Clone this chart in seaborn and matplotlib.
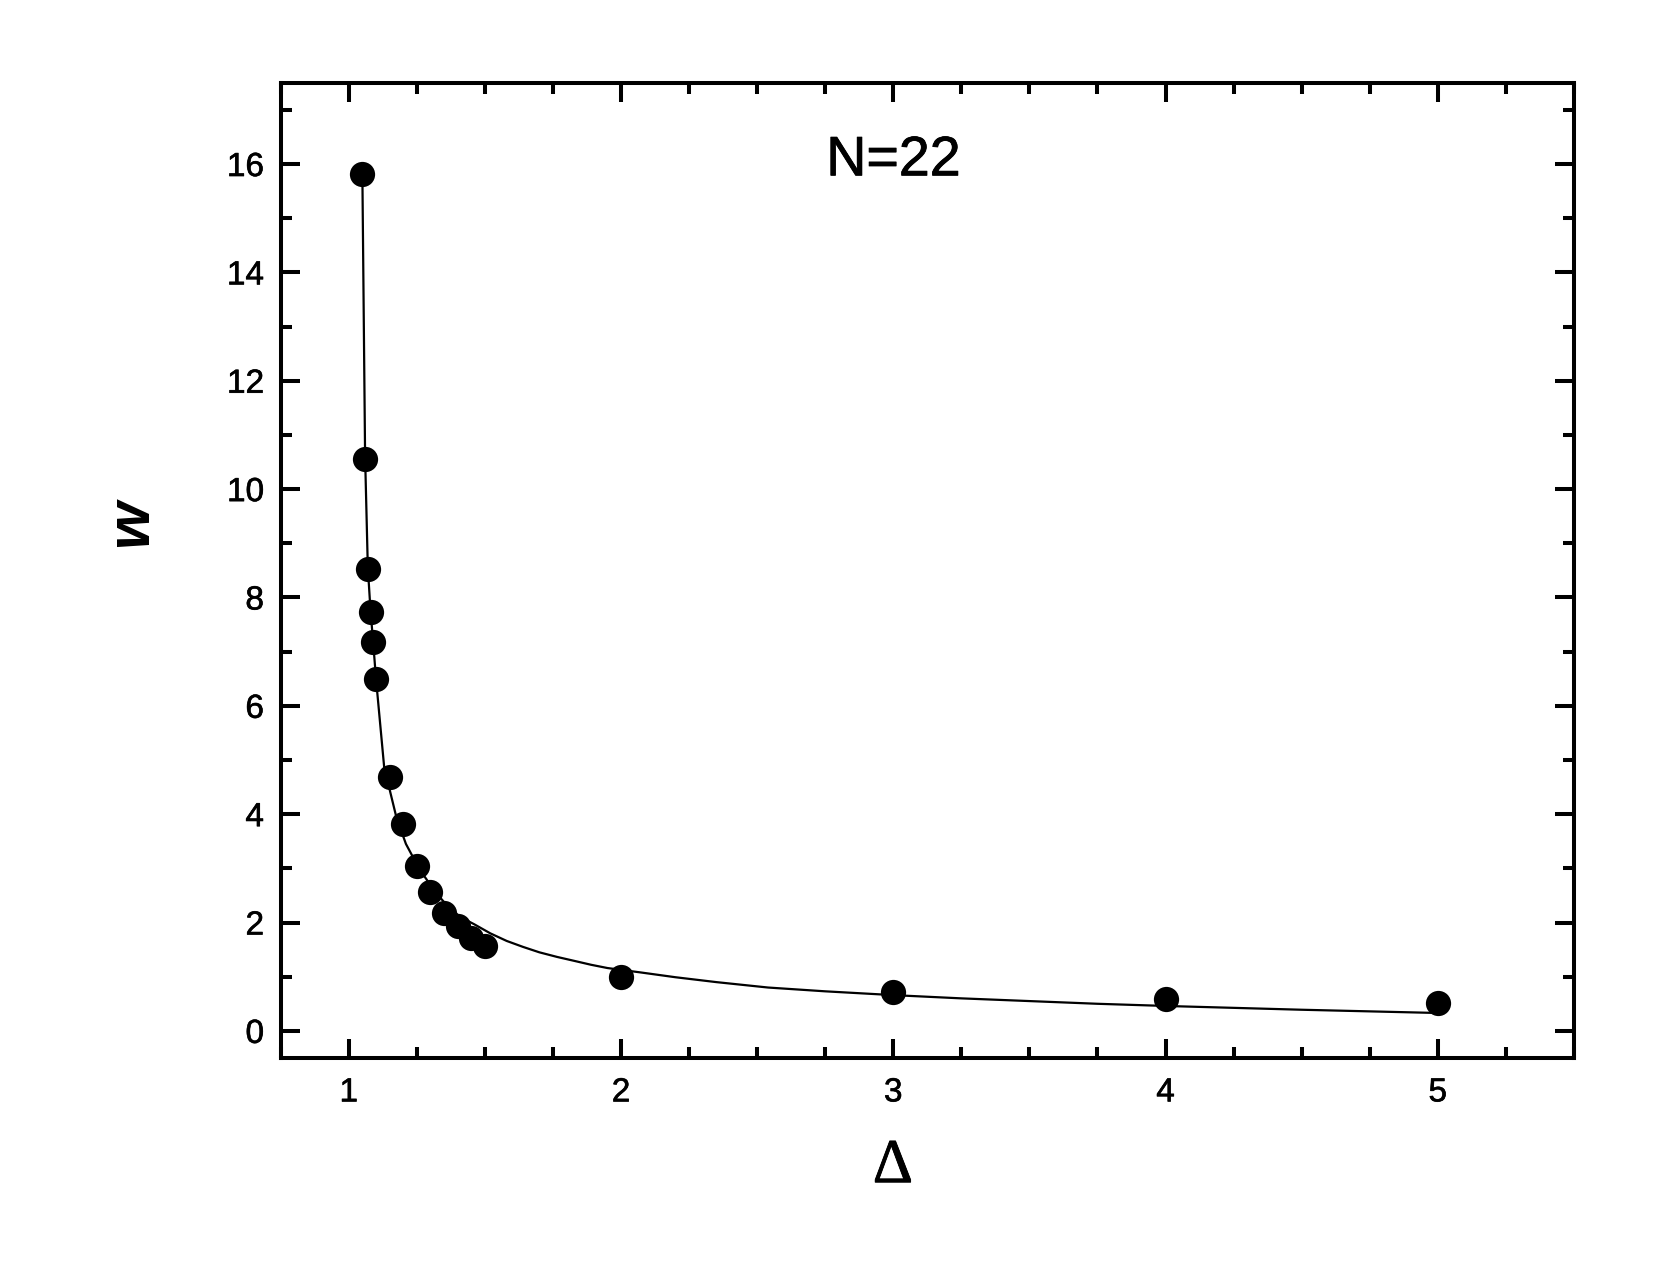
import numpy as np
import pandas as pd
import matplotlib
matplotlib.use("Agg")
import matplotlib.pyplot as plt
import matplotlib.patheffects as pe
from matplotlib.ticker import MultipleLocator
import seaborn as sns

# Data points (Delta, w)
delta = [1.05, 1.06, 1.07, 1.08, 1.09, 1.10, 1.15, 1.20, 1.25, 1.30,
         1.35, 1.40, 1.45, 1.50, 2.0, 3.0, 4.0, 5.0]
w_vals = [15.82, 10.55, 8.53, 7.73, 7.17, 6.50, 4.69, 3.82, 3.04, 2.56,
          2.17, 1.94, 1.72, 1.57, 1.00, 0.71, 0.59, 0.52]

# Curve
curve_x = [1.05, 1.06, 1.07, 1.08, 1.09, 1.10, 1.13, 1.175, 1.21, 1.26,
           1.32, 1.36, 1.41, 1.46, 1.52, 1.58, 1.64, 1.70, 1.765, 1.83,
           1.89, 1.95, 2.07, 2.20, 2.35, 2.54, 2.75, 3.0, 3.25, 3.5,
           3.75, 4.0, 4.5, 5.0]
curve_y = [15.8, 10.6, 8.55, 7.75, 7.15, 6.5, 4.87, 3.94, 3.45, 2.98,
           2.55, 2.32, 2.10, 1.97, 1.80, 1.66, 1.55, 1.45, 1.365, 1.29,
           1.22, 1.16, 1.08, 0.99, 0.90, 0.80, 0.73, 0.66, 0.60, 0.55,
           0.50, 0.46, 0.39, 0.33]

pts = pd.DataFrame({"delta": delta, "w": w_vals})
crv = pd.DataFrame({"delta": curve_x, "w": curve_y})

sns.set_theme(style="ticks")
plt.rcParams['font.family'] = ['Liberation Sans', 'DejaVu Sans']
plt.rcParams['text.color'] = 'black'
plt.rcParams['axes.labelcolor'] = 'black'
plt.rcParams['xtick.color'] = 'black'
plt.rcParams['ytick.color'] = 'black'

fig = plt.figure(figsize=(16.58, 12.83), dpi=100)
ax = fig.add_axes([0.1693, 0.1754, 0.9493 - 0.1693, 0.9355 - 0.1754])

sns.lineplot(data=crv, x="delta", y="w", ax=ax, color="black", lw=1.6,
             sort=False, estimator=None)
sns.scatterplot(data=pts, x="delta", y="w", ax=ax, color="black", s=330,
                linewidth=0, zorder=3)

ax.set_xlim(0.75, 5.5)
ax.set_ylim(-0.5, 17.5)
ax.xaxis.set_major_locator(MultipleLocator(1))
ax.xaxis.set_minor_locator(MultipleLocator(0.25))
ax.yaxis.set_major_locator(MultipleLocator(2))
ax.yaxis.set_minor_locator(MultipleLocator(1))

for sp in ax.spines.values():
    sp.set_visible(True)
    sp.set_linewidth(2.9)
    sp.set_color("black")

ax.tick_params(which="both", direction="in", top=True, right=True,
               width=2.9, color="black", labelcolor="black")
ax.tick_params(which="major", length=13.7)
ax.tick_params(which="minor", length=7.9)
ax.tick_params(axis="x", which="major", labelsize=24, pad=14)
ax.tick_params(axis="y", which="major", labelsize=24, pad=12)

heavy = [pe.withStroke(linewidth=0.45, foreground="black")]
for lab in ax.get_xticklabels() + ax.get_yticklabels():
    lab.set_path_effects(heavy)

ax.set_xlabel("Δ", fontsize=45, family=["Liberation Serif", "DejaVu Serif"])
ax.xaxis.label.set_path_effects([pe.withStroke(linewidth=0.6, foreground="black")])
ax.set_ylabel("w", fontsize=44, fontweight="bold", fontstyle="italic")
ax.xaxis.set_label_coords(0.4734, -0.112)
ax.yaxis.set_label_coords(-0.1157, 0.5486)
ax.xaxis.label.set_va("center")
ax.yaxis.label.set_va("center")

t = ax.text(3.0, 16.05, "N=22", fontsize=40, ha="center", va="center")
t.set_path_effects([pe.withStroke(linewidth=0.6, foreground="black")])

ax.grid(False)
fig.savefig("out.png", dpi=100)
